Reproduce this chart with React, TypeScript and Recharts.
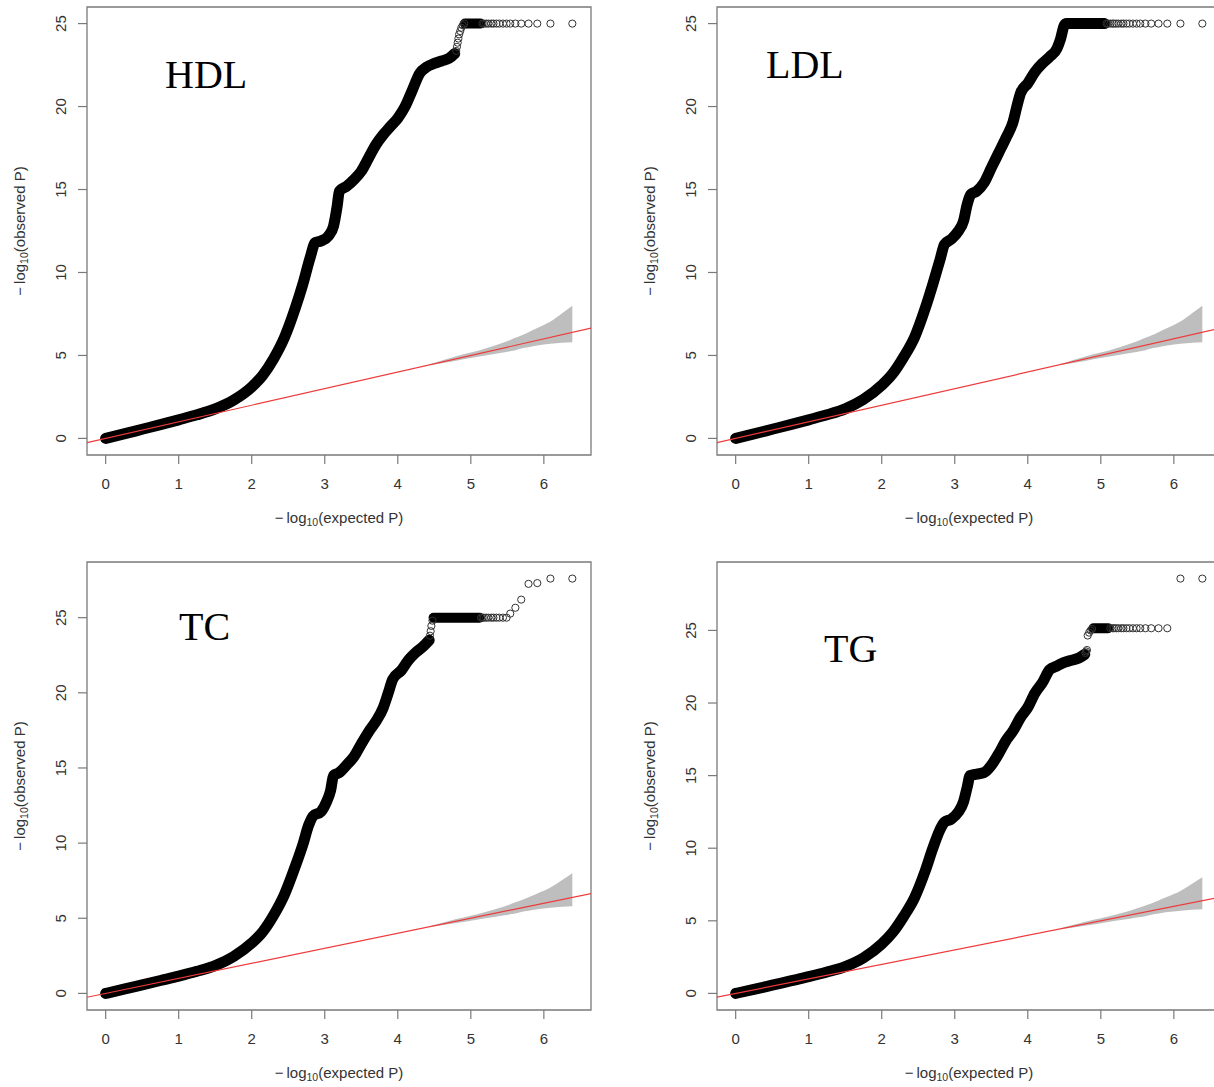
import React from "react";
import { ComposedChart, XAxis, YAxis, Line, Area, Scatter, ReferenceArea } from "recharts";

// tick labels shared by all four panels
const X_TICKS = [0, 1, 2, 3, 4, 5, 6];
const Y_TICKS = [0, 5, 10, 15, 20, 25];

// largest expected -log10(P) (same SNP count in every panel)
const EXP_MAX = 6.39;

// 95% band around the null line
const BAND_X = [4.45, 4.8, 5.0, 5.2, 5.4, 5.54, 5.61, 5.69, 5.79, 5.91, 6.09, 6.25, 6.39];
const BAND_LO = [4.42, 4.68, 4.84, 5.0, 5.15, 5.26, 5.32, 5.42, 5.5, 5.6, 5.7, 5.76, 5.8];
const BAND_HI = [4.48, 4.95, 5.17, 5.42, 5.7, 5.93, 6.06, 6.2, 6.4, 6.65, 7.05, 7.55, 8.0];

// HDL
const HDL_DENSE: [number, number][] = [
  [0, 0], [0.25, 0.27], [0.5, 0.55], [0.75, 0.83], [1, 1.12], [1.25, 1.42], [1.5, 1.78], [1.75, 2.3],
  [2, 3.1], [2.15, 3.8], [2.3, 4.8], [2.45, 6.1], [2.6, 7.9], [2.7, 9.3], [2.8, 10.9], [2.87, 11.8],
  [2.95, 11.9], [3.05, 12.2], [3.12, 12.8], [3.17, 14.0], [3.2, 14.9], [3.3, 15.2], [3.4, 15.6],
  [3.5, 16.1], [3.6, 16.9], [3.7, 17.7], [3.8, 18.3], [3.9, 18.8], [4.0, 19.3], [4.1, 20.0],
  [4.2, 21.0], [4.3, 22.0], [4.4, 22.4], [4.5, 22.6], [4.6, 22.75], [4.7, 22.9], [4.78, 23.2],
];
const HDL_FLAT: [number, number][] = [[4.92, 25], [5.13, 25]];
const HDL_OPEN: [number, number][] = [
  [4.8, 23.35], [4.81, 23.6], [4.82, 23.85], [4.83, 24.1], [4.84, 24.35], [4.855, 24.55], [4.87, 24.75],
  [4.89, 24.9], [4.91, 25], [5.16, 25], [5.18, 25], [5.21, 25], [5.24, 25], [5.28, 25], [5.31, 25],
  [5.35, 25], [5.39, 25], [5.44, 25], [5.49, 25], [5.54, 25], [5.61, 25], [5.69, 25], [5.79, 25],
  [5.91, 25], [6.09, 25], [6.39, 25],
];

// LDL
const LDL_DENSE: [number, number][] = [
  [0, 0], [0.25, 0.27], [0.5, 0.55], [0.75, 0.83], [1, 1.12], [1.25, 1.42], [1.5, 1.78], [1.75, 2.35],
  [2, 3.2], [2.15, 3.9], [2.3, 4.9], [2.45, 6.1], [2.6, 7.9], [2.7, 9.3], [2.8, 10.8], [2.86, 11.7],
  [2.95, 12.0], [3.05, 12.5], [3.12, 13.1], [3.17, 14.1], [3.22, 14.7], [3.3, 14.9], [3.4, 15.4],
  [3.5, 16.3], [3.6, 17.2], [3.7, 18.1], [3.8, 19.1], [3.85, 20.0], [3.9, 20.8], [4.0, 21.4],
  [4.1, 22.1], [4.2, 22.6], [4.3, 23.0], [4.4, 23.5], [4.45, 24.1], [4.5, 24.9], [4.53, 25], [5.05, 25],
];
const LDL_FLAT: [number, number][] = [];
const LDL_OPEN: [number, number][] = [
  [5.08, 25], [5.1, 25], [5.13, 25], [5.16, 25], [5.18, 25], [5.21, 25], [5.24, 25], [5.28, 25],
  [5.31, 25], [5.35, 25], [5.39, 25], [5.44, 25], [5.49, 25], [5.54, 25], [5.61, 25], [5.69, 25],
  [5.79, 25], [5.91, 25], [6.09, 25], [6.39, 25],
];

// TC
const TC_DENSE: [number, number][] = [
  [0, 0], [0.25, 0.28], [0.5, 0.57], [0.75, 0.86], [1, 1.15], [1.25, 1.47], [1.5, 1.85], [1.75, 2.45],
  [2, 3.35], [2.15, 4.1], [2.3, 5.2], [2.45, 6.6], [2.6, 8.5], [2.7, 9.9], [2.78, 11.2], [2.84, 11.8],
  [2.95, 12.1], [3.02, 12.7], [3.08, 13.5], [3.12, 14.5], [3.2, 14.7], [3.3, 15.2], [3.4, 15.75],
  [3.5, 16.6], [3.6, 17.4], [3.7, 18.1], [3.8, 19.0], [3.87, 20.0], [3.93, 20.9], [4.05, 21.5],
  [4.15, 22.2], [4.25, 22.7], [4.35, 23.1], [4.43, 23.5],
];
const TC_FLAT: [number, number][] = [[4.49, 25], [5.12, 25]];
const TC_OPEN: [number, number][] = [
  [4.44, 23.8], [4.45, 24.1], [4.46, 24.45], [4.475, 24.8], [5.14, 25], [5.16, 25], [5.18, 25],
  [5.21, 25], [5.24, 25], [5.28, 25], [5.31, 25], [5.35, 25], [5.39, 25], [5.44, 25], [5.49, 25],
  [5.54, 25.27], [5.61, 25.66], [5.69, 26.2], [5.79, 27.25], [5.91, 27.3], [6.09, 27.6], [6.39, 27.6],
];

// TG
const TG_DENSE: [number, number][] = [
  [0, 0], [0.25, 0.28], [0.5, 0.57], [0.75, 0.86], [1, 1.15], [1.25, 1.47], [1.5, 1.85], [1.75, 2.45],
  [2, 3.4], [2.15, 4.2], [2.3, 5.3], [2.45, 6.6], [2.6, 8.5], [2.7, 10.0], [2.8, 11.3], [2.86, 11.8],
  [2.95, 12.0], [3.05, 12.5], [3.12, 13.2], [3.17, 14.2], [3.21, 15.0], [3.3, 15.1], [3.4, 15.2],
  [3.5, 15.7], [3.6, 16.5], [3.7, 17.4], [3.8, 18.1], [3.9, 19.0], [4.0, 19.7], [4.1, 20.7],
  [4.2, 21.4], [4.3, 22.3], [4.4, 22.55], [4.5, 22.8], [4.6, 22.95], [4.7, 23.1], [4.78, 23.35],
];
const TG_FLAT: [number, number][] = [[4.9, 25.15], [5.1, 25.15]];
const TG_OPEN: [number, number][] = [
  [4.79, 23.45], [4.8, 23.55], [4.81, 23.65], [4.82, 24.65], [4.84, 24.85], [4.86, 25.0], [4.88, 25.1],
  [5.13, 25.15], [5.16, 25.15], [5.18, 25.15], [5.21, 25.15], [5.24, 25.15], [5.28, 25.15],
  [5.31, 25.15], [5.35, 25.15], [5.39, 25.15], [5.44, 25.15], [5.49, 25.15], [5.54, 25.15],
  [5.61, 25.15], [5.69, 25.15], [5.79, 25.15], [5.91, 25.15], [6.09, 28.57], [6.39, 28.57],
];

const SANS = "'Liberation Sans', Arial, Helvetica, sans-serif";
const SERIF = "'Liberation Serif', 'Times New Roman', serif";
const FRAME = "#7a7a7a";
const INK = "#333";

const toPts = (arr: [number, number][]) => arr.map(([x, y]) => ({ x, y }));
const band = BAND_X.map((x, i) => ({ x, range: [BAND_LO[i], BAND_HI[i]] }));

const OpenCircle = (p: any) =>
  p.cx == null ? null : <circle cx={p.cx} cy={p.cy} r={3.6} fill="none" stroke="#333" strokeWidth={1} />;

const XTick = ({ x, y, payload }: any) => (
  <text x={x} y={y + 24.5} textAnchor="middle" fontSize={15} fontFamily={SANS} fill={INK}>
    {payload.value}
  </text>
);

const YTick = ({ x, y, payload }: any) => (
  <text transform={`translate(${x - 12},${y}) rotate(-90)`} textAnchor="middle" fontSize={15} fontFamily={SANS} fill={INK}>
    {payload.value}
  </text>
);

interface PanelProps {
  left: number;
  top: number;
  title: string;
  titleX: number;
  titleY: number;
  dense: [number, number][];
  flat: [number, number][];
  open: [number, number][];
  obsMax: number;
}

function QQPanel({ left, top, title, titleX, titleY, dense, flat, open, obsMax }: PanelProps) {
  // base R pads each axis range by 4%
  const xPad = EXP_MAX * 0.04;
  const yPad = obsMax * 0.04;
  const xDom: [number, number] = [-xPad, EXP_MAX + xPad];
  const yDom: [number, number] = [-yPad, obsMax + yPad];
  const nullLine = [{ x: xDom[0], y: xDom[0] }, { x: xDom[1], y: xDom[1] }];

  return (
    <div style={{ position: "absolute", left, top, width: 610, height: 545 }}>
      <ComposedChart width={610} height={545} margin={{ top: 7, right: 19, bottom: 30, left: 0 }}>
        <XAxis
          type="number"
          dataKey="x"
          domain={xDom}
          allowDataOverflow
          ticks={X_TICKS}
          tick={<XTick />}
          tickSize={9}
          tickMargin={0}
          tickLine={{ stroke: FRAME, strokeWidth: 1.2 }}
          axisLine={false}
          height={60}
          interval={0}
        />
        <YAxis
          type="number"
          dataKey="y"
          domain={yDom}
          allowDataOverflow
          ticks={Y_TICKS}
          tick={<YTick />}
          tickSize={9}
          tickMargin={0}
          tickLine={{ stroke: FRAME, strokeWidth: 1.2 }}
          axisLine={false}
          width={87}
          interval={0}
        />
        <Area
          data={band}
          dataKey="range"
          type="monotoneX"
          fill="#bebebe"
          fillOpacity={1}
          stroke="none"
          isAnimationActive={false}
        />
        <Line
          data={toPts(dense)}
          dataKey="y"
          type="monotoneX"
          stroke="#000"
          strokeWidth={11}
          strokeLinecap="round"
          strokeLinejoin="round"
          dot={false}
          isAnimationActive={false}
        />
        <Line
          data={toPts(flat)}
          dataKey="y"
          type="linear"
          stroke="#000"
          strokeWidth={10}
          strokeLinecap="round"
          dot={false}
          isAnimationActive={false}
        />
        <Scatter data={toPts(open)} shape={<OpenCircle />} isAnimationActive={false} />
        <Line
          data={nullLine}
          dataKey="y"
          type="linear"
          stroke="#ee3a3a"
          strokeWidth={1.2}
          dot={false}
          isAnimationActive={false}
        />
        <ReferenceArea
          x1={xDom[0]}
          x2={xDom[1]}
          y1={yDom[0]}
          y2={yDom[1]}
          fill="none"
          stroke={FRAME}
          strokeWidth={1.3}
          ifOverflow="visible"
        />
      </ComposedChart>
      <svg width={610} height={545} style={{ position: "absolute", left: 0, top: 0, pointerEvents: "none" }}>
        <text x={titleX} y={titleY} fontSize={40} fontFamily={SERIF} fill="#000">
          {title}
        </text>
        <text x={339} y={522.5} textAnchor="middle" fontSize={15} fontFamily={SANS} fill={INK}>
          {"\u2212"}
          <tspan dx={3}>log</tspan>
          <tspan fontSize={10.5} dy={3}>10</tspan>
          <tspan dy={-3}>(expected P)</tspan>
        </text>
        <text transform="translate(25,231) rotate(-90)" textAnchor="middle" fontSize={15} fontFamily={SANS} fill={INK}>
          {"\u2212"}
          <tspan dx={3}>log</tspan>
          <tspan fontSize={10.5} dy={3}>10</tspan>
          <tspan dy={-3}>(observed P)</tspan>
        </text>
      </svg>
    </div>
  );
}

export default function App() {
  return (
    <div style={{ position: "absolute", left: 0, top: 0, width: 1214, height: 1087, overflow: "hidden", background: "#fff" }}>
      <QQPanel left={0} top={0} title="HDL" titleX={165} titleY={88} dense={HDL_DENSE} flat={HDL_FLAT} open={HDL_OPEN} obsMax={25} />
      <QQPanel left={630} top={0} title="LDL" titleX={136} titleY={78} dense={LDL_DENSE} flat={LDL_FLAT} open={LDL_OPEN} obsMax={25} />
      <QQPanel left={0} top={555} title="TC" titleX={179} titleY={85} dense={TC_DENSE} flat={TC_FLAT} open={TC_OPEN} obsMax={27.6} />
      <QQPanel left={630} top={555} title="TG" titleX={194} titleY={107} dense={TG_DENSE} flat={TG_FLAT} open={TG_OPEN} obsMax={28.57} />
    </div>
  );
}
